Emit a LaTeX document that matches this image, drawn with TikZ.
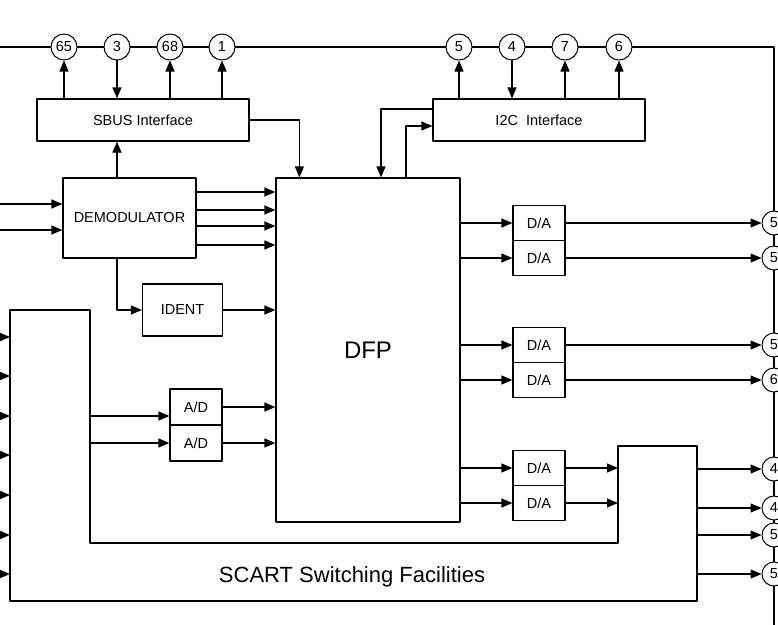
\documentclass[tikz,border=0pt]{standalone}
\usepackage{fontspec}
\setmainfont{Liberation Sans}
\usepackage{tikz}
\usetikzlibrary{arrows.meta,calc,positioning}
\tikzset{
  blk/.style={draw, rectangle, line width=1.2pt, inner sep=0pt, font=\fontsize{14.5}{16}\selectfont},
  pin/.style={circle, draw, fill=white, line width=1pt, minimum size=26pt, inner sep=0pt, font=\fontsize{14.5}{16}\selectfont},
  sig/.style={line width=1.2pt, -{Triangle[length=11pt,width=9pt]}},
  wire/.style={line width=1.2pt},
  bus/.style={line width=2.4pt},
  every picture/.style={line cap=round, line join=round}
}

\begin{document}
\begin{tikzpicture}[x=1pt,y=-1pt]
  \useasboundingbox (0,0) rectangle (778,624);
  \clip (0,0) rectangle (778,624);
  \draw[bus] (-10,47) -- (774,47) -- (774,640);
  \foreach \nm/\xx/\lbl in {p65/64/65, p3/117/3, p68/170/68, p1/222/1, q5/459/5, q4/512/4, q7/565/7, q6/619/6}
    \node[pin] (\nm) at (\xx,47) {\lbl};
  \foreach \nm/\yy/\lbl in {r1/223/5, r2/258/5, r3/345/5, r4/380/6, r5/469/4, r6/508/4, r7/535/5, r8/574/5}
    \node[pin, minimum size=24pt] (\nm) at (774,\yy) {\lbl};

  \node[blk, minimum width=212pt, minimum height=42pt] (sbus) at (143,120) {SBUS Interface};
  \node[blk, minimum width=212pt, minimum height=42pt] (i2c) at (539,120) {I2C\ \ Interface};
  \node[blk, minimum width=133pt, minimum height=80pt] (demod) at (129.5,218) {DEMODULATOR};
  \node[blk, minimum width=80pt, minimum height=52pt] (ident) at (182.5,310) {IDENT};
  \node[blk, minimum width=184pt, minimum height=344pt, font=\fontsize{24}{26}\selectfont] (dfp) at (368,350) {DFP};
  \node[blk, minimum width=52pt, minimum height=36pt] (ad1) at (196,407) {A/D};
  \node[blk, minimum width=52pt, minimum height=36pt] (ad2) at (196,443) {A/D};
  \foreach \nm/\yy in {da1/223, da2/258, da3/345, da4/380, da5/468, da6/503}
    \node[blk, minimum width=52pt, minimum height=35pt] (\nm) at (539,\yy) {D/A};

  \coordinate (sc1) at (10,310);
  \coordinate (sc2) at (90,310);
  \coordinate (sc3) at (90,543);
  \coordinate (sc4) at (618,543);
  \coordinate (sc5) at (618,446);
  \coordinate (sc6) at (697,446);
  \coordinate (sc7) at (697,601);
  \coordinate (sc8) at (10,601);
  \draw[wire] (sc1) -- (sc2) -- (sc3) -- (sc4) -- (sc5) -- (sc6) -- (sc7) -- (sc8) -- cycle;
  \node[font=\fontsize{22}{24}\selectfont] (scart) at (352,577) {SCART Switching Facilities};

  \foreach \nm in {p65,p68,p1}
    \draw[sig] (sbus.north -| \nm) -- (\nm);
  \draw[sig] (p3) -- (sbus.north -| p3);
  \foreach \nm in {q5,q7,q6}
    \draw[sig] (i2c.north -| \nm) -- (\nm);
  \draw[sig] (q4) -- (i2c.north -| q4);

  \draw[sig] (demod.north -| p3) -- (sbus.south -| p3);
  \draw[sig] (demod.south -| p3) |- (ident.west);
  \draw[sig] (ident.east) -- (dfp.west |- ident.east);
  \foreach \yy in {192,210,226,245}
    \draw[sig] (demod.east |- 0,\yy) -- (dfp.west |- 0,\yy);
  \foreach \yy in {204,230}
    \draw[sig] (-10,\yy) -- (demod.west |- 0,\yy);
  \draw[sig] (sbus.east) -| ($(dfp.north west)+(24,0)$);
  \draw[sig] (i2c.west |- 0,109) -| ($(dfp.north)+(13,0)$);
  \draw[sig] ($(dfp.north)+(38,0)$) |- (i2c.west |- 0,126);

  \foreach \yy in {337,376,416,455,495,535,574}
    \draw[sig] (-10,\yy) -- (sc1 |- 0,\yy);
  \draw[sig] (sc2 |- 0,416) -- (ad1.west |- 0,416);
  \draw[sig] (sc2 |- ad2.west) -- (ad2.west);
  \draw[sig] (ad1.east) -- (dfp.west |- ad1.east);
  \draw[sig] (ad2.east) -- (dfp.west |- ad2.east);

  \foreach \nm in {da1,da2,da3,da4,da5,da6}
    \draw[sig] (dfp.east |- \nm.west) -- (\nm.west);
  \foreach \nm/\rr in {da1/r1, da2/r2, da3/r3, da4/r4}
    \draw[sig] (\nm.east) -- (\nm.east -| \rr.west);
  \draw[sig] (da5.east) -- (da5.east -| sc5);
  \draw[sig] (da6.east) -- (da6.east -| sc5);
  \foreach \rr in {r5,r6,r7,r8}
    \draw[sig] (sc6 |- \rr) -- (\rr.west);
\end{tikzpicture}
\end{document}
